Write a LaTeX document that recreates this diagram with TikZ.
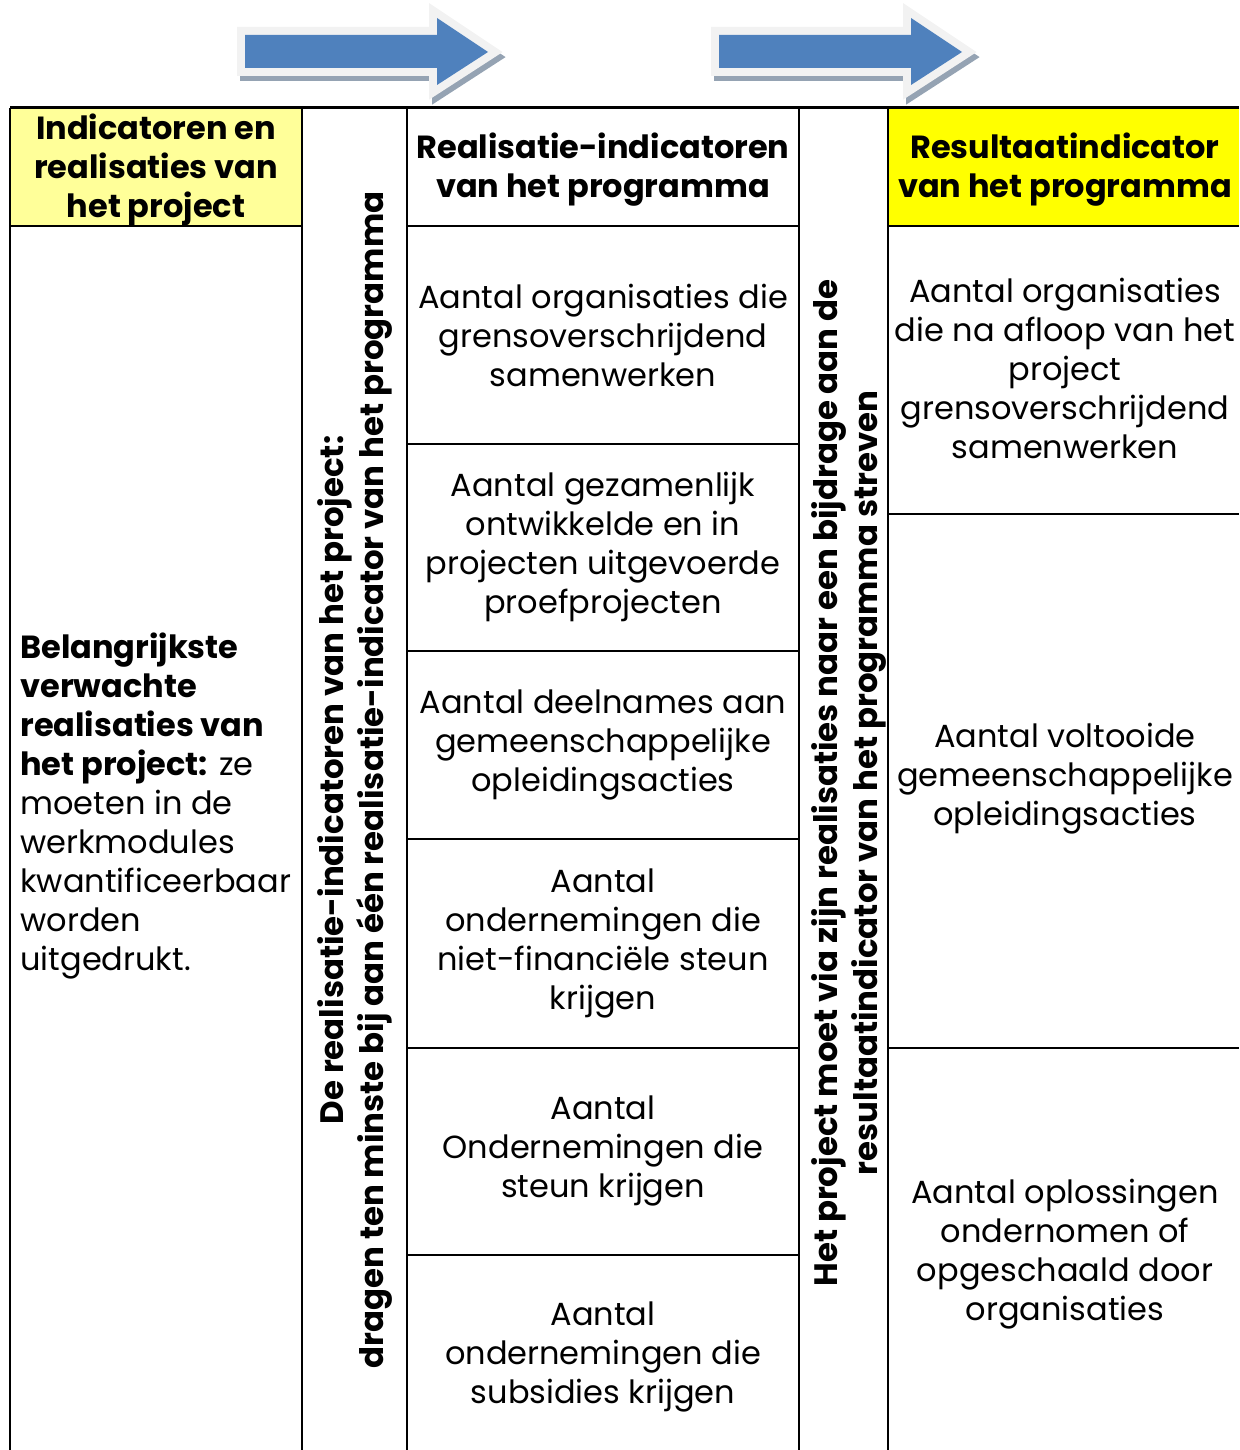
\documentclass[tikz,border=0pt]{standalone}
\usepackage{fontspec}
\setmainfont{Poppins}
\definecolor{arrowblue}{RGB}{79,129,189}
\definecolor{arrowedge}{RGB}{242,242,242}
\definecolor{arrowshadow}{RGB}{149,163,179}
\definecolor{paleyellow}{RGB}{255,255,153}
\definecolor{fullyellow}{RGB}{255,255,0}

\begin{document}
\begin{tikzpicture}[x=0.5pt,y=-0.5pt,
  every node/.style={inner sep=0pt, font=\fontsize{16}{19.5}\selectfont},
  cell/.style={align=center},
  headcell/.style={align=center, font=\fontsize{16}{19.5}\selectfont\bfseries},
  sidetext/.style={align=center, rotate=90, font=\fontsize{16.2}{20}\selectfont\bfseries}]
\useasboundingbox (0,0) rectangle (1239,1450);

% block arrows
\foreach \dx in {0,474} {
  \begin{scope}[shift={(\dx,0)}]
    \draw[arrowshadow, fill=arrowshadow, line width=8pt, line join=miter]
      (248,40) -- (440,40) -- (440,23) -- (491,57) -- (440,90) -- (440,73) -- (248,73) -- cycle;
    \draw[arrowedge, fill=arrowedge, line width=8pt, line join=miter]
      (245,35) -- (437,35) -- (437,18) -- (488,52) -- (437,85) -- (437,68) -- (245,68) -- cycle;
    \fill[arrowblue]
      (245,35) -- (437,35) -- (437,18) -- (488,52) -- (437,85) -- (437,68) -- (245,68) -- cycle;
  \end{scope}
}

% header fills
\fill[paleyellow] (10,108) rectangle (302,226);
\fill[fullyellow] (888,108) rectangle (1239,226);

% grid
\draw[line width=1.5pt] (10,108) -- (1239,108);
\foreach \x in {10,302,407,799,888}
  \draw[line width=1pt] (\x,108) -- (\x,1450);
\draw[line width=1pt] (10,226) -- (302,226);
\draw[line width=1pt] (407,226) -- (799,226);
\draw[line width=1pt] (888,226) -- (1239,226);
\foreach \y in {444,651,839,1048,1255}
  \draw[line width=1pt] (407,\y) -- (799,\y);
\draw[line width=1pt] (888,514) -- (1239,514);
\draw[line width=1pt] (888,1048) -- (1239,1048);

% column 1
\node[headcell] (projhead) at (156,170) {Indicatoren en\\realisaties van\\het project};
\node[align=left, anchor=west] (projbody) at (20,806)
  {\textbf{Belangrijkste}\\\textbf{verwachte}\\\textbf{realisaties van}\\\textbf{het project:} ze\\moeten in de\\werkmodules\\kwantificeerbaar\\worden\\uitgedrukt.};

% column 2
\node[sidetext] (projside) at (355,780)
  {De realisatie-indicatoren van het project:\\dragen ten minste bij aan één realisatie-indicator van het programma};

% column 3
\node[headcell] (realhead) at (603,170) {Realisatie-indicatoren\\van het programma};
\node[cell] (real1) at (603,335) {Aantal organisaties die\\grensoverschrijdend\\samenwerken};
\node[cell] (real2) at (603,547) {Aantal gezamenlijk\\ontwikkelde en in\\projecten uitgevoerde\\proefprojecten};
\node[cell] (real3) at (603,745) {Aantal deelnames aan\\gemeenschappelijke\\opleidingsacties};
\node[cell] (real4) at (603,943) {Aantal\\ondernemingen die\\niet-financiële steun\\krijgen};
\node[cell] (real5) at (603,1151) {Aantal\\Ondernemingen die\\steun krijgen};
\node[cell] (real6) at (603,1357) {Aantal\\ondernemingen die\\subsidies krijgen};

% column 4
\node[sidetext] (progside) at (849,783)
  {Het project moet via zijn realisaties naar een bijdrage aan de\\resultaatindicator van het programma streven};

% column 5
\node[headcell] (reshead) at (1065,170) {Resultaatindicator\\van het programma};
\node[cell] (res1) at (1065,368) {Aantal organisaties\\die na afloop van het\\project\\grensoverschrijdend\\samenwerken};
\node[cell] (res2) at (1065,779) {Aantal voltooide\\gemeenschappelijke\\opleidingsacties};
\node[cell] (res3) at (1065,1254) {Aantal oplossingen\\ondernomen of\\opgeschaald door\\organisaties};
\end{tikzpicture}
\end{document}
